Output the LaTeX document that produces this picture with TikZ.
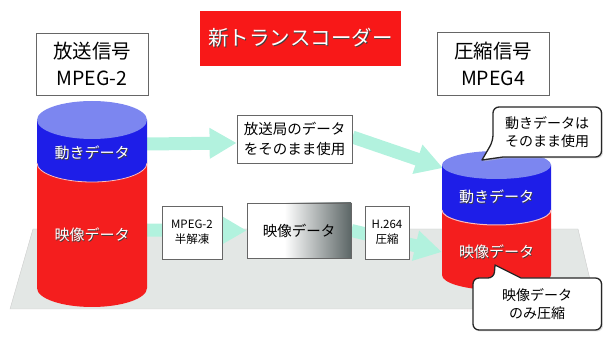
\documentclass[tikz,border=0pt]{standalone}
\usepackage{fontspec}
\setmainfont{Noto Sans CJK JP}
\usetikzlibrary{arrows.meta,shadows}

\definecolor{titlered}{HTML}{F81818}
\definecolor{cylred}{HTML}{F41E1E}
\definecolor{cylblue}{HTML}{1E1EE8}
\definecolor{cyltop}{HTML}{7C86F0}
\definecolor{mint}{HTML}{B2F2DE}
\definecolor{slate}{HTML}{5C6666}
\definecolor{floorgrey}{HTML}{E3E7E5}

\pgfdeclarelayer{floor}
\pgfdeclarelayer{flow}
\pgfsetlayers{floor,flow,main}
\pgfdeclarehorizontalshading{greyfade}{100bp}{color(0bp)=(white); color(43bp)=(white); color(75bp)=(slate); color(100bp)=(slate)}
\newcommand\shtext[1]{\rlap{\hspace{0.9pt}\raisebox{-0.9pt}{\color{black!75}#1}}#1}

\begin{document}
\begin{tikzpicture}[x=1pt,y=-1pt,
	box/.style={draw=black!60,line width=0.8pt,fill=white,inner sep=0pt,align=center},
	cyltext/.style={text=white,inner sep=0pt,minimum width=109pt,font=\fontsize{15}{18}\selectfont},
	flowarrow/.style={draw=mint,line width=13pt,-{Triangle[width=29pt,length=27pt]}},
	noteline/.style={draw=black!85,line width=1.3pt,fill=white,line join=round,drop shadow={shadow xshift=1.5pt,shadow yshift=-1.5pt,fill=black!25}},
	notetext/.style={inner sep=0pt,align=center,font=\fontsize{14}{18}\selectfont}]
	\useasboundingbox (0,0) rectangle (603,347);
	
	\begin{pgfonlayer}{floor}
	\draw[fill=floorgrey,draw=black!20] (33,229) -- (578,229) -- (597,309) -- (10,309) -- cycle;
	\end{pgfonlayer}
	
	\node[box,fill=titlered,draw=none,text=white,minimum width=201pt,minimum height=55pt,font=\fontsize{20.5}{24}\selectfont] (title) at (300.5,38.5) {\shtext{新トランスコーダー}};
	\node[box,minimum width=112pt,minimum height=62pt,font=\fontsize{19.5}{27}\selectfont] (srcsig) at (92,64) {放送信号\\MPEG-2};
	\node[box,minimum width=112pt,minimum height=63pt,font=\fontsize{19.5}{27}\selectfont] (dstsig) at (493,63.5) {圧縮信号\\MPEG4};
	
	% left cylinder
	\fill[cylred] (37,163) -- (37,288) arc[start angle=180,end angle=0,x radius=55,y radius=19] -- (147,163) -- cycle;
	\fill[cylblue] (37,120) -- (37,163) arc[start angle=180,end angle=0,x radius=55,y radius=19] -- (147,120) -- cycle;
	\draw[white!70!cylred,line width=0.8pt] (37,163) arc[start angle=180,end angle=0,x radius=55,y radius=19];
	\fill[cyltop] (92,120) ellipse[x radius=55,y radius=19];
	
	% right cylinder
	\fill[cylred] (442,210) -- (442,275) arc[start angle=180,end angle=0,x radius=54.5,y radius=15] -- (551,210) -- cycle;
	\fill[cylblue] (442,165) -- (442,210) arc[start angle=180,end angle=0,x radius=54.5,y radius=15] -- (551,165) -- cycle;
	\draw[white!70!cylred,line width=1pt] (442,210) arc[start angle=180,end angle=0,x radius=54.5,y radius=15];
	\fill[cyltop] (496.5,165) ellipse[x radius=54.5,y radius=14];
	
	\node[cyltext] (motionL) at (92,153) {\shtext{動きデータ}};
	\node[cyltext] (videoL) at (92,235) {\shtext{映像データ}};
	\node[cyltext] (motionR) at (496.5,197) {\shtext{動きデータ}};
	\node[cyltext] (videoR) at (496.5,252) {\shtext{映像データ}};
	
	\node[box,minimum width=115pt,minimum height=48pt,font=\fontsize{14.5}{20}\selectfont] (bcast) at (294.5,139) {放送局のデータ\\をそのまま使用};
	\node[box,minimum width=60pt,minimum height=53pt,font=\fontsize{11.5}{15}\selectfont] (decode) at (192,232.5) {MPEG-2\\半解凍};
	\node[box,shade,shading=greyfade,minimum width=104pt,minimum height=55pt,font=\fontsize{14.5}{18}\selectfont] (frame) at (299,230.5) {映像データ};
	\node[box,minimum width=44pt,minimum height=53pt,font=\fontsize{11.5}{15}\selectfont] (encode) at (387,232.5) {H.264\\圧縮};
	
	% callouts
	\path[noteline] (482,160) -- (503,157) [rounded corners=6pt] -- (601.5,157) -- (601.5,107) -- (493,107) -- (493,141) [sharp corners] -- cycle;
	\node[notetext] (keepnote) at (547,132) {動きデータは\\そのまま使用};
	\path[noteline] (495,265) -- (521,278) [rounded corners=6pt] -- (601.5,278) -- (601.5,330) -- (473,330) -- (473,278) -- (494,278) [sharp corners] -- cycle;
	\node[notetext] (compnote) at (537,304) {映像データ\\のみ圧縮};
	
	\coordinate (cylR-in) at (443,168);
	\begin{pgfonlayer}{flow}
	\draw[flowarrow] ([yshift=9pt]motionL.east) -- ([yshift=-4pt]bcast.west);
	\draw[flowarrow] ([yshift=2pt]bcast.east) -- (cylR-in);
	\draw[flowarrow] ([yshift=5pt]videoL.east) -- (frame.west);
	\draw[flowarrow] (frame.east) -- (videoR.west);
	\end{pgfonlayer}
	
\end{tikzpicture}
\end{document}
